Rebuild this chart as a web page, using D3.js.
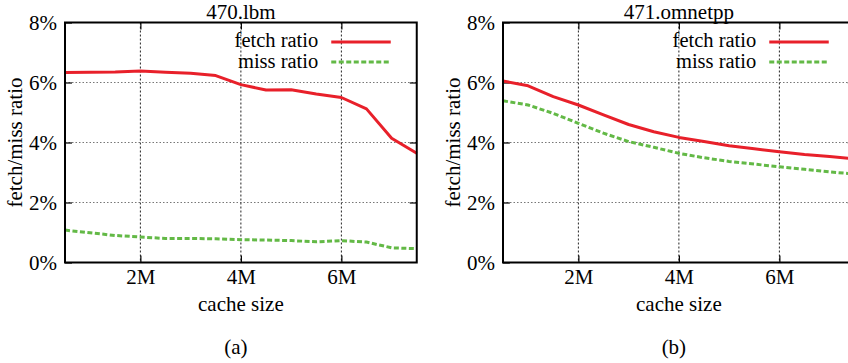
<!DOCTYPE html>
<html>
<head>
<meta charset="utf-8">
<script src="https://cdn.jsdelivr.net/npm/d3@7/dist/d3.min.js"></script>
<style>
  html, body { margin: 0; padding: 0; background: #fff; }
  svg text { font-family: "Liberation Serif", "Times New Roman", Times, serif; fill: #000; }
</style>
</head>
<body>
<svg id="chart" width="848" height="363"></svg>
<script>
// ---- data (cache size in MB, ratios in %) ----
const cacheSizes = [0.5, 1, 1.5, 2, 2.5, 3, 3.5, 4, 4.5, 5, 5.5, 6, 6.5, 7, 7.5];
const xTickValues = [2, 4, 6];
const xTickLabels = ["2M", "4M", "6M"];
const yTickValues = [0, 2, 4, 6, 8];
const yTickLabels = ["0%", "2%", "4%", "6%", "8%"];
const panelTitles = ["470.lbm", "471.omnetpp"];
const panelCaptions = ["(a)", "(b)"];
const seriesNames = ["fetch ratio", "miss ratio"];

const lbmFetch = [6.33, 6.34, 6.35, 6.38, 6.34, 6.31, 6.23, 5.93, 5.75, 5.76, 5.62, 5.50, 5.12, 4.14, 3.64];
const lbmMiss  = [1.08, 0.99, 0.90, 0.85, 0.80, 0.80, 0.79, 0.76, 0.75, 0.73, 0.69, 0.73, 0.68, 0.49, 0.46];
const omnFetch = [6.05, 5.89, 5.53, 5.25, 4.92, 4.60, 4.36, 4.17, 4.03, 3.89, 3.79, 3.69, 3.60, 3.53, 3.45];
const omnMiss  = [5.39, 5.25, 4.97, 4.64, 4.31, 4.03, 3.84, 3.64, 3.49, 3.37, 3.28, 3.19, 3.11, 3.02, 2.95];

const svg = d3.select("#chart");
const FAMILY = '"Liberation Serif", "Times New Roman", Times, serif';
const FONT = 21;
const LEGEND_FONT = 20.5;
const RED = "#e8202a";
const GREEN = "#63b946";

function drawPanel(left, title, caption, fetch, miss) {
  const width = 351.75;
  const top = 22.5, bottom = 262.5;
  const x = d3.scaleLinear().domain([0.5, 7.5]).range([left, left + width]);
  const y = d3.scaleLinear().domain([0, 8]).range([bottom, top]);
  const g = svg.append("g").attr("font-family", FAMILY);

  // grid
  g.append("g").selectAll("line").data([2, 4, 6]).join("line")
    .attr("x1", left).attr("x2", left + width)
    .attr("y1", d => y(d)).attr("y2", d => y(d))
    .attr("stroke", "#777").attr("stroke-width", 1).attr("stroke-dasharray", "1.5,2");
  g.append("g").selectAll("line").data(xTickValues).join("line")
    .attr("x1", d => x(d)).attr("x2", d => x(d))
    .attr("y1", top).attr("y2", bottom)
    .attr("stroke", "#222").attr("stroke-width", 1).attr("stroke-dasharray", "2,2");

  // axes
  const ax = g.append("g").attr("transform", `translate(0,${bottom})`)
    .call(d3.axisBottom(x).tickValues(xTickValues).tickFormat((d, i) => xTickLabels[i])
      .tickSizeInner(-7).tickSizeOuter(0).tickPadding(7));
  const ay = g.append("g").attr("transform", `translate(${left},0)`)
    .call(d3.axisLeft(y).tickValues(yTickValues).tickFormat((d, i) => yTickLabels[i])
      .tickSizeInner(-7).tickSizeOuter(0).tickPadding(8));
  const at = g.append("g").attr("transform", `translate(0,${top})`)
    .call(d3.axisTop(x).tickValues(xTickValues).tickFormat("").tickSizeInner(-7).tickSizeOuter(0));
  const ar = g.append("g").attr("transform", `translate(${left + width},0)`)
    .call(d3.axisRight(y).tickValues([2, 4, 6]).tickFormat("").tickSizeInner(-7).tickSizeOuter(0));
  [ax, ay, at, ar].forEach(a => {
    a.attr("font-family", FAMILY).attr("font-size", FONT);
    a.select(".domain").remove();
    a.selectAll(".tick line").attr("stroke", "#000").attr("stroke-width", 1.2);
    a.selectAll(".tick text").attr("fill", "#000");
  });

  // series
  const line = d3.line().x((d, i) => x(cacheSizes[i])).y(d => y(d));
  g.append("path").datum(miss).attr("d", line)
    .attr("fill", "none").attr("stroke", GREEN).attr("stroke-width", 3)
    .attr("stroke-dasharray", "5,2.5");
  g.append("path").datum(fetch).attr("d", line)
    .attr("fill", "none").attr("stroke", RED).attr("stroke-width", 3)
    .attr("stroke-linejoin", "round");

  // frame
  g.append("rect").attr("x", left).attr("y", top).attr("width", width).attr("height", bottom - top)
    .attr("fill", "none").attr("stroke", "#000").attr("stroke-width", 2);

  // legend
  const right = left + width;
  const leg = [{ name: seriesNames[0], color: RED, dash: null, yy: 42, ty: 46.5 },
               { name: seriesNames[1], color: GREEN, dash: "5,2.5", yy: 62, ty: 67.5 }];
  leg.forEach(l => {
    g.append("text").attr("x", right - 98.5).attr("y", l.ty)
      .attr("text-anchor", "end").attr("font-size", LEGEND_FONT).text(l.name);
    g.append("line").attr("x1", right - 85.5).attr("x2", right - 26)
      .attr("y1", l.yy).attr("y2", l.yy)
      .attr("stroke", l.color).attr("stroke-width", 3)
      .attr("stroke-dasharray", l.dash);
  });

  // title
  g.append("text").attr("x", left + width / 2).attr("y", 19)
    .attr("text-anchor", "middle").attr("font-size", FONT).text(title);
  // x label
  g.append("text").attr("x", left + width / 2).attr("y", 311)
    .attr("text-anchor", "middle").attr("font-size", FONT).text("cache size");
  // y label
  g.append("text").attr("transform", `translate(${left - 43},${(top + bottom) / 2}) rotate(-90)`)
    .attr("text-anchor", "middle").attr("font-size", FONT).text("fetch/miss ratio");
  // caption
  g.append("text").attr("x", left + width / 2 - 5).attr("y", 354)
    .attr("text-anchor", "middle").attr("font-size", FONT).text(caption);
}

drawPanel(65, panelTitles[0], panelCaptions[0], lbmFetch, lbmMiss);
drawPanel(503, panelTitles[1], panelCaptions[1], omnFetch, omnMiss);
</script>
</body>
</html>
